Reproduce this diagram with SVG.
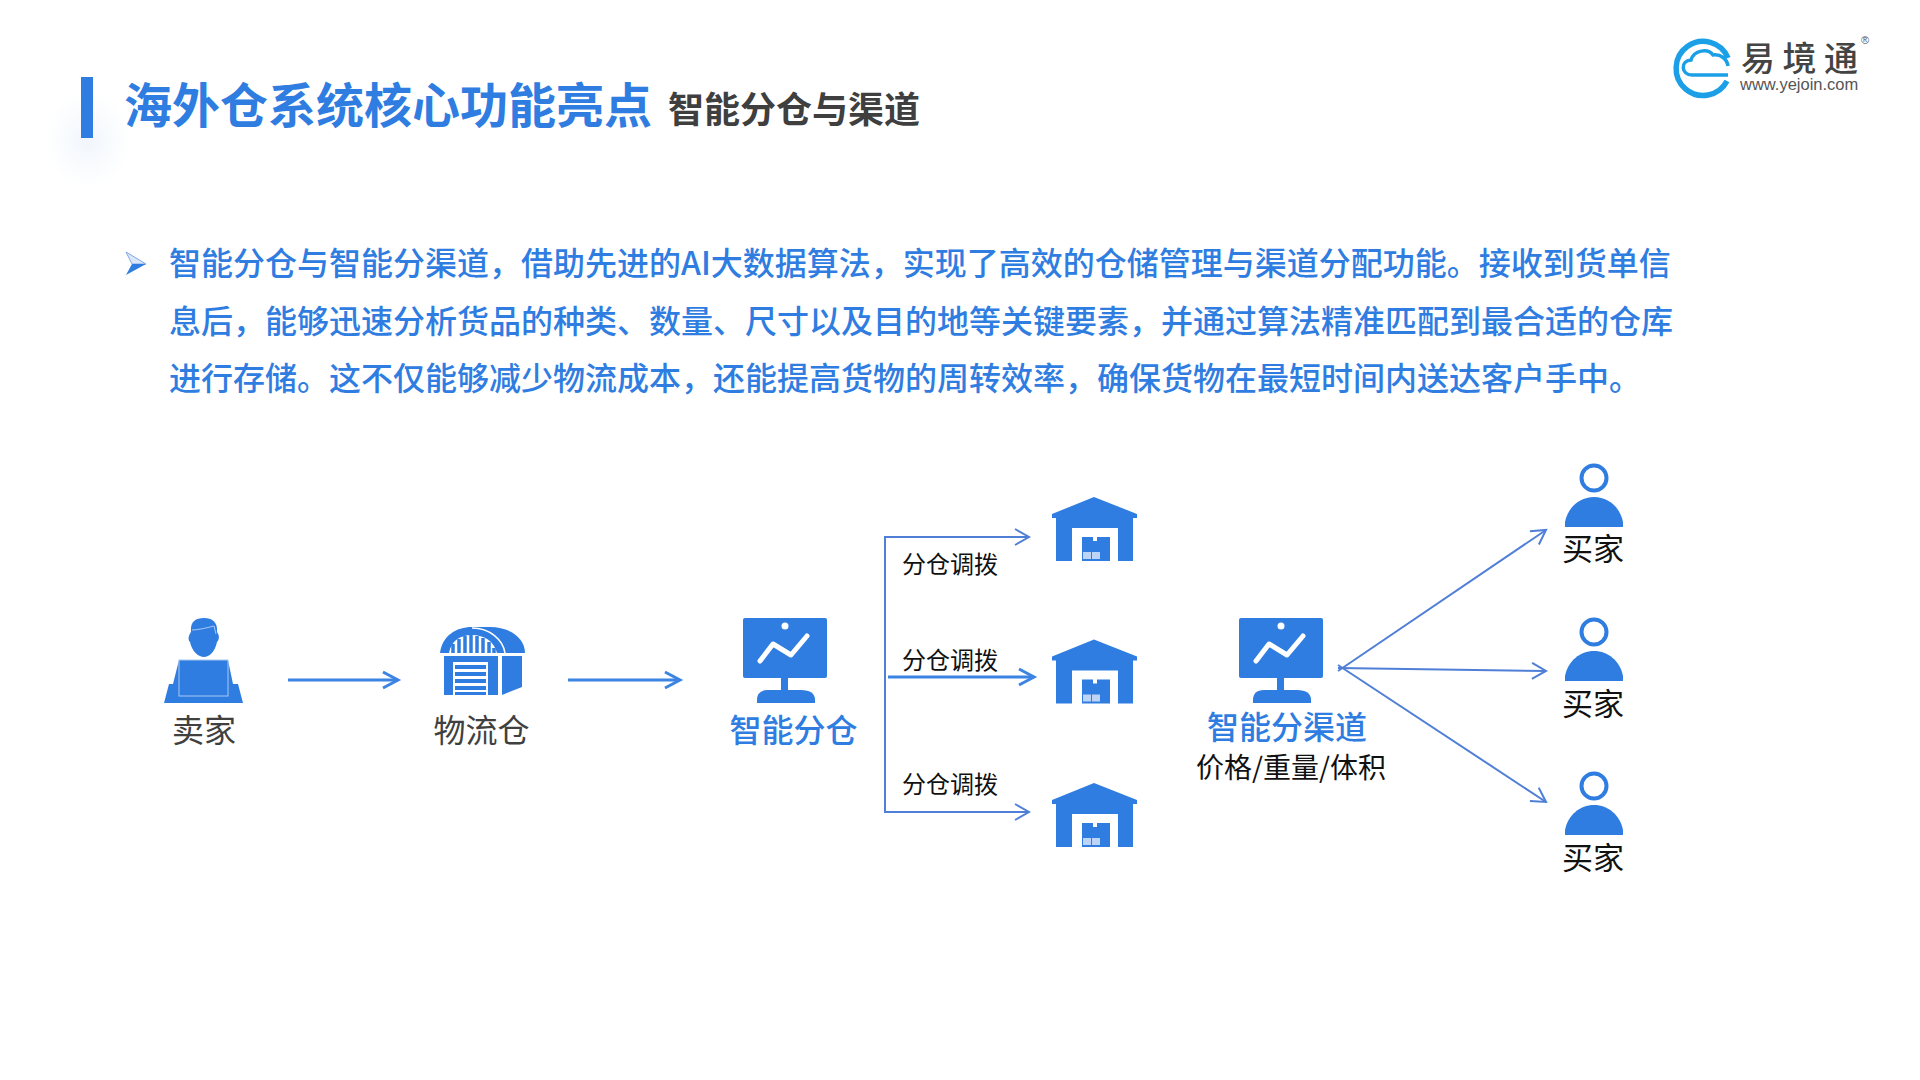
<svg xmlns="http://www.w3.org/2000/svg" xmlns:xlink="http://www.w3.org/1999/xlink" width="1920" height="1080" viewBox="0 0 1920 1080">
<style>
text{font-family:"Noto Sans CJK SC","Noto Sans",sans-serif}
.b{fill:#2f7de1}
.body{font-size:32px;fill:#2f7de1;font-weight:500}
.lab{font-size:32px;fill:#404040;text-anchor:middle}
.blab{font-size:32px;fill:#2f7de1;text-anchor:middle;font-weight:500}
.sm{font-size:24px;fill:#111;text-anchor:middle}
.buy{font-size:31px;fill:#111;text-anchor:middle}
.con{fill:none;stroke:#4f7fd6;stroke-width:2}
.thick{fill:none;stroke:#3b84e3;stroke-width:3}
</style>
<defs>
<radialGradient id="glow"><stop offset="0" stop-color="#e8f0fb" stop-opacity=".6"/><stop offset="1" stop-color="#e8f0fb" stop-opacity="0"/></radialGradient>
<marker id="ah" markerUnits="userSpaceOnUse" markerWidth="20" markerHeight="20" refX="15" refY="10" orient="auto"><path d="M1 2L15 10L1 18" fill="none" stroke="#4f7fd6" stroke-width="2"/></marker>
<marker id="ahb" markerUnits="userSpaceOnUse" markerWidth="22" markerHeight="22" refX="16" refY="11" orient="auto"><path d="M1 3L16 11L1 19" fill="none" stroke="#3b84e3" stroke-width="3"/></marker>
<g id="wh">
<path class="b" d="M1052 517V514L1094 497L1137 514V518H1133V561H1118V528H1072V561H1056V518H1052Z"/>
<path class="b" d="M1082 537H1093V541H1097V537H1110V561H1082Z"/>
<rect x="1083" y="552" width="8" height="7" fill="#bcd4f5"/><rect x="1092" y="552" width="8" height="7" fill="#bcd4f5"/>
</g>
<g id="mon">
<rect class="b" x="0" y="0" width="84" height="60" rx="2"/>
<rect class="b" x="38" y="60" width="7" height="14"/>
<path class="b" d="M14 85V82Q14 72 25 72H58Q72 72 72 82V85Z"/>
<circle cx="42" cy="8" r="3.5" fill="#fff"/>
<path d="M17 43L30 26L48 37L64 18" fill="none" stroke="#fff" stroke-width="5" stroke-linecap="round" stroke-linejoin="round"/>
</g>
<g id="per">
<circle cx="1594" cy="478" r="12.5" fill="#fff" stroke="#2f7de1" stroke-width="4"/>
<path class="b" d="M1565 527V522C1568 507 1580 497 1594 497C1608 497 1620 507 1623 522V527Z"/>
</g>
</defs>
<rect width="1920" height="1080" fill="#fff"/>

<g id="title">
<ellipse cx="88" cy="140" rx="42" ry="48" fill="url(#glow)"/>
<rect class="b" x="81" y="77" width="12" height="61"/>
<text x="124" y="123" font-size="48" font-weight="700" fill="#2f7de1">海外仓系统核心功能亮点</text>
<text x="668" y="123" font-size="36" font-weight="700" fill="#3f3f3f">智能分仓与渠道</text>
</g>

<g id="logo">
<path d="M1727 81A27 27 0 1 1 1728 58" fill="none" stroke="#1ba0e8" stroke-width="5.5"/>
<path d="M1728 75H1692C1681 75 1680 61 1691 60C1694 50 1708 48 1713 55C1721 54 1727 59 1728 66" fill="none" stroke="#1ba0e8" stroke-width="3.5"/>
<text x="1741 1782.500 1824" y="71" font-size="34" font-weight="500" fill="#444">易境通</text>
<text x="1740" y="90" font-size="16.5" fill="#555" style="font-family:'Liberation Sans',sans-serif">www.yejoin.com</text>
<text x="1861" y="44" font-size="11" fill="#555" style="font-family:'Liberation Sans',sans-serif">®</text>
</g>

<g id="paragraph">
<path d="M126 252L146 264L132 264Z" fill="#dbe7f9" stroke="#7fa9ea" stroke-width="1"/>
<path class="b" d="M132 264H146L126 275Z"/>
<text class="body" x="169" y="275">智能分仓与智能分渠道，借助先进的AI大数据算法，实现了高效的仓储管理与渠道分配功能。接收到货单信</text>
<text class="body" x="169" y="332.5">息后，能够迅速分析货品的种类、数量、尺寸以及目的地等关键要素，并通过算法精准匹配到最合适的仓库</text>
<text class="body" x="169" y="390">进行存储。这不仅能够减少物流成本，还能提高货物的周转效率，确保货物在最短时间内送达客户手中。</text>
</g>

<g id="connectors">
<path class="thick" d="M288 680H398" marker-end="url(#ahb)"/>
<path class="thick" d="M568 680H680" marker-end="url(#ahb)"/>
<path class="con" d="M1029 537H885V812H1029" marker-end="url(#ah)"/>
<path class="con" d="M885 537H1029" marker-end="url(#ah)"/>
<path class="thick" d="M888 677H1034" marker-end="url(#ahb)"/>
<path class="con" d="M1338 671L1546 530" marker-end="url(#ah)"/>
<path class="con" d="M1338 668L1546 671" marker-end="url(#ah)"/>
<path class="con" d="M1338 665L1546 802" marker-end="url(#ah)"/>
<text class="sm" x="950" y="573">分仓调拨</text>
<text class="sm" x="950" y="669">分仓调拨</text>
<text class="sm" x="950" y="793">分仓调拨</text>
</g>

<g id="seller">
<path class="b" d="M179 660L173 684H169L164 703H243L238 684H233L228 660Z"/>
<rect class="b" x="179" y="660" width="49" height="36" stroke="#a9c8f2" stroke-width="1"/>
<path class="b" d="M191 632C190 621 196 618 204 618C212 618 218 622 217 632C220 636 219 640 217 642C215 652 209 657 204 657C199 657 192 652 190 642C188 640 188 636 191 632Z"/>
<path d="M192 630C198 630 206 628 214 626L216 634" fill="none" stroke="#a9c8f2" stroke-width="1"/>
<text class="lab" x="204" y="742">卖家</text>
</g>

<g id="warehouse">
<path class="b" d="M440 653C442 636 456 627 472 627H490C510 627 525 638 525 653Z"/>
<path d="M472 628C490 628 503 640 505 653" fill="none" stroke="#fff" stroke-width="1.5"/>
<path d="M449 653C451 641 460 635 472 635C484 635 494 641 497 653Z" fill="#fff"/>
<path d="M453 653V644M459 653V639M465 653V636M471 653V635M477 653V636M483 653V638M489 653V642M494 653V648" stroke="#2f7de1" stroke-width="3.5" fill="none"/>
<path class="b" d="M444 656H498V695H488V662H453V695H444Z"/>
<path class="b" d="M502 656H522V687L502 695Z"/>
<path class="b" d="M455 665H486V669H455ZM455 672H486V676H455ZM455 679H486V683H455ZM455 686H486V690H455ZM455 692H486V695H455Z"/>
<text class="lab" x="481.500" y="742">物流仓</text>
</g>

<g id="smart-split">
<use href="#mon" x="743" y="618"/>
<text class="blab" x="793.500" y="742">智能分仓</text>
</g>

<g id="store-1"><use href="#wh"/></g>
<g id="store-2"><use href="#wh" y="142.5"/></g>
<g id="store-3"><use href="#wh" y="286"/></g>

<g id="smart-channel">
<use href="#mon" x="1239" y="618"/>
<text class="blab" x="1287" y="739">智能分渠道</text>
<text x="1291" y="778" font-size="28" fill="#111" text-anchor="middle">价格/重量/体积</text>
</g>

<g id="buyer-1"><use href="#per"/><text class="buy" x="1593" y="560">买家</text></g>
<g id="buyer-2"><use href="#per" y="154"/><text class="buy" x="1593" y="715">买家</text></g>
<g id="buyer-3"><use href="#per" y="308"/><text class="buy" x="1593" y="869">买家</text></g>
</svg>
